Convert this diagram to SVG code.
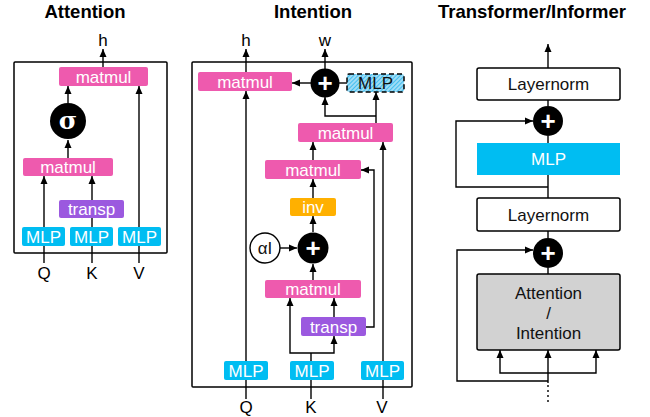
<svg xmlns="http://www.w3.org/2000/svg" width="650" height="417" viewBox="0 0 650 417">
<defs>
<marker id="ah" markerWidth="8" markerHeight="8" refX="8" refY="4" orient="auto" markerUnits="userSpaceOnUse">
<path d="M0,0.5 L8,4 L0,7.5 Z" fill="#000"/>
</marker>
<pattern id="hatch" width="3" height="3" patternUnits="userSpaceOnUse" patternTransform="rotate(45)">
<rect width="3" height="3" fill="#9fdcf5"/>
<line x1="0" y1="0" x2="0" y2="3" stroke="#22b4ee" stroke-width="1.5"/>
</pattern>
</defs>
<style>
text{font-family:"Liberation Sans",Arial,sans-serif;}
.title{font-size:18.5px;font-weight:bold;fill:#000;text-anchor:middle;}
.lbl{font-size:17px;fill:#000;text-anchor:middle;}
.wt{font-size:17px;fill:#fff;text-anchor:middle;}
.bt{font-size:17px;fill:#111;text-anchor:middle;}
.pink{fill:#EE5AAE;}
.cyan{fill:#00BDF2;}
.purple{fill:#9B59DF;}
.orange{fill:#FFB000;}
.frame{fill:none;stroke:#000;stroke-width:1.5;}
.ln{fill:none;stroke:#000;stroke-width:1.4;}
.arr{fill:none;stroke:#000;stroke-width:1.4;marker-end:url(#ah);}
.op{fill:#000;}
.opt{font-size:26px;font-weight:bold;fill:#fff;text-anchor:middle;}
.wbox{fill:#fff;stroke:#000;stroke-width:1.5;}
</style>

<!-- Titles -->
<text class="title" x="85" y="18">Attention</text>
<text class="title" x="313" y="18">Intention</text>
<text class="title" x="532" y="18">Transformer/Informer</text>

<!-- ===== Attention panel ===== -->
<rect class="frame" x="14" y="62" width="153" height="191" rx="1"/>
<g id="att-connectors">
<line class="arr" x1="103" y1="67" x2="103" y2="49"/>
<line class="arr" x1="68" y1="103" x2="68" y2="86"/>
<line class="arr" x1="68" y1="158" x2="68" y2="140"/>
<line class="arr" x1="44" y1="263" x2="44" y2="176"/>
<line class="ln" x1="92" y1="263" x2="92" y2="218"/>
<line class="arr" x1="92" y1="200" x2="92" y2="176"/>
<line class="arr" x1="139" y1="263" x2="139" y2="86"/>
</g>
<g id="att-matmul-top"><rect class="pink" x="59" y="67" width="89" height="19" rx="2"/><text class="wt" x="103.5" y="82.5">matmul</text></g>
<g id="att-sigma"><circle class="op" cx="68" cy="121" r="18"/><text x="68" y="129" font-size="25" font-weight="bold" fill="#fff" text-anchor="middle" style="font-family:'DejaVu Serif',serif">σ</text></g>
<g id="att-matmul-bot"><rect class="pink" x="23" y="158" width="90" height="18" rx="2"/><text class="wt" x="68" y="173">matmul</text></g>
<g id="att-transp"><rect class="purple" x="59" y="200" width="65" height="18" rx="2"/><text class="wt" x="91.5" y="215">transp</text></g>
<g id="att-mlp-q"><rect class="cyan" x="22" y="227" width="43" height="19" rx="2"/><text class="wt" x="43.5" y="242.5">MLP</text></g>
<g id="att-mlp-k"><rect class="cyan" x="70" y="227" width="43" height="19" rx="2"/><text class="wt" x="91.5" y="242.5">MLP</text></g>
<g id="att-mlp-v"><rect class="cyan" x="118" y="227" width="43" height="19" rx="2"/><text class="wt" x="139.5" y="242.5">MLP</text></g>
<text class="lbl" x="103" y="46">h</text>
<text class="lbl" x="44" y="279">Q</text>
<text class="lbl" x="92" y="279">K</text>
<text class="lbl" x="139" y="279">V</text>

<!-- ===== Intention panel ===== -->
<rect class="frame" x="192" y="62" width="220" height="325" rx="1"/>
<g id="int-connectors">
<line class="arr" x1="246" y1="72" x2="246" y2="49"/>
<line class="arr" x1="325" y1="69" x2="325" y2="49"/>
<line class="arr" x1="246" y1="399" x2="246" y2="91"/>
<line class="arr" x1="311" y1="83" x2="292" y2="83"/>
<line class="ln" x1="339" y1="83" x2="347" y2="83"/>
<line class="arr" x1="376" y1="123" x2="376" y2="92"/>
<polyline class="arr" points="376,116 325,116 325,97"/>
<line class="arr" x1="313" y1="160" x2="313" y2="142"/>
<line class="arr" x1="313" y1="198" x2="313" y2="179"/>
<line class="arr" x1="313" y1="232" x2="313" y2="216"/>
<line class="arr" x1="280" y1="248" x2="297" y2="248"/>
<line class="arr" x1="313" y1="280" x2="313" y2="264"/>
<polyline class="arr" points="366,327 374,327 374,170 361,170"/>
<line class="arr" x1="383" y1="399" x2="383" y2="142"/>
<line class="ln" x1="311" y1="399" x2="311" y2="353"/>
<polyline class="arr" points="311,353 290,353 290,298"/>
<polyline class="arr" points="311,353 334,353 334,336"/>
<line class="arr" x1="334" y1="317" x2="334" y2="298"/>
</g>
<g id="int-matmul-h"><rect class="pink" x="198" y="72" width="94" height="19" rx="2"/><text class="wt" x="245" y="87.5">matmul</text></g>
<g id="int-plus-w"><circle class="op" cx="325" cy="83" r="14.5"/><text class="opt" x="325" y="92">+</text></g>
<g id="int-mlp-dashed"><rect x="347" y="74" width="57" height="18" rx="2" fill="url(#hatch)" stroke="#000" stroke-width="1.5" stroke-dasharray="5,3"/><text class="bt" x="375.5" y="89">MLP</text></g>
<g id="int-matmul-2"><rect class="pink" x="298" y="123" width="95" height="19" rx="2"/><text class="wt" x="345.5" y="138.5">matmul</text></g>
<g id="int-matmul-3"><rect class="pink" x="265" y="160" width="96" height="19" rx="2"/><text class="wt" x="313" y="175.5">matmul</text></g>
<g id="int-inv"><rect class="orange" x="290" y="198" width="46" height="18" rx="2"/><text class="wt" x="313" y="213">inv</text></g>
<g id="int-plus"><circle class="op" cx="313" cy="248" r="15.5"/><text class="opt" x="313" y="257">+</text></g>
<g id="int-alphaI"><circle cx="265" cy="248" r="15" fill="#fff" stroke="#000" stroke-width="1.4"/><text class="bt" x="265" y="254">αI</text></g>
<g id="int-matmul-4"><rect class="pink" x="265" y="280" width="96" height="18" rx="2"/><text class="wt" x="313" y="295">matmul</text></g>
<g id="int-transp"><rect class="purple" x="301" y="317" width="65" height="19" rx="2"/><text class="wt" x="333.5" y="332.5">transp</text></g>
<g id="int-mlp-q"><rect class="cyan" x="224" y="361" width="44" height="19" rx="2"/><text class="wt" x="246" y="376.5">MLP</text></g>
<g id="int-mlp-k"><rect class="cyan" x="290" y="361" width="44" height="19" rx="2"/><text class="wt" x="312" y="376.5">MLP</text></g>
<g id="int-mlp-v"><rect class="cyan" x="361" y="361" width="43" height="19" rx="2"/><text class="wt" x="382.5" y="376.5">MLP</text></g>
<text class="lbl" x="246" y="46">h</text>
<text class="lbl" x="325" y="46">w</text>
<text class="lbl" x="246" y="413">Q</text>
<text class="lbl" x="311" y="413">K</text>
<text class="lbl" x="382" y="413">V</text>

<!-- ===== Transformer panel ===== -->
<g id="tf-connectors">
<line class="arr" x1="548" y1="68" x2="548" y2="44"/>
<line class="ln" x1="548" y1="100" x2="548" y2="106"/>
<line class="ln" x1="548" y1="136" x2="548" y2="143"/>
<line class="ln" x1="548" y1="175" x2="548" y2="198"/>
<polyline class="arr" points="548,187 456,187 456,121 533,121"/>
<line class="ln" x1="548" y1="231" x2="548" y2="238"/>
<line class="ln" x1="548" y1="268" x2="548" y2="274"/>
<polyline class="arr" points="548,381 457,381 457,250 533,250"/>
<line class="arr" x1="548" y1="383" x2="548" y2="350"/>
<polyline class="arr" points="548,373 500,373 500,350"/>
<polyline class="arr" points="548,373 596,373 596,350"/>
<line x1="548" y1="385" x2="548" y2="404" stroke="#000" stroke-width="1.4" stroke-dasharray="2,3"/>
</g>
<g id="tf-layernorm-top"><rect class="wbox" x="477" y="68" width="143" height="32" rx="2"/><text class="bt" x="548.5" y="90">Layernorm</text></g>
<g id="tf-plus-top"><circle class="op" cx="548" cy="121" r="15"/><text class="opt" x="548" y="130">+</text></g>
<g id="tf-mlp"><rect class="cyan" x="477" y="143" width="143" height="32"/><text class="wt" x="548.5" y="165">MLP</text></g>
<g id="tf-layernorm-bot"><rect class="wbox" x="477" y="198" width="143" height="33" rx="2"/><text class="bt" x="548.5" y="220.5">Layernorm</text></g>
<g id="tf-plus-bot"><circle class="op" cx="548" cy="253" r="15"/><text class="opt" x="548" y="262">+</text></g>
<g id="tf-attention"><rect x="477" y="274" width="143" height="76" rx="2" fill="#D2D2D2" stroke="#000" stroke-width="1.5"/>
<text class="bt" x="548.5" y="298.5">Attention</text>
<text class="bt" x="548.5" y="319">/</text>
<text class="bt" x="548.5" y="338.5">Intention</text></g>
</svg>
